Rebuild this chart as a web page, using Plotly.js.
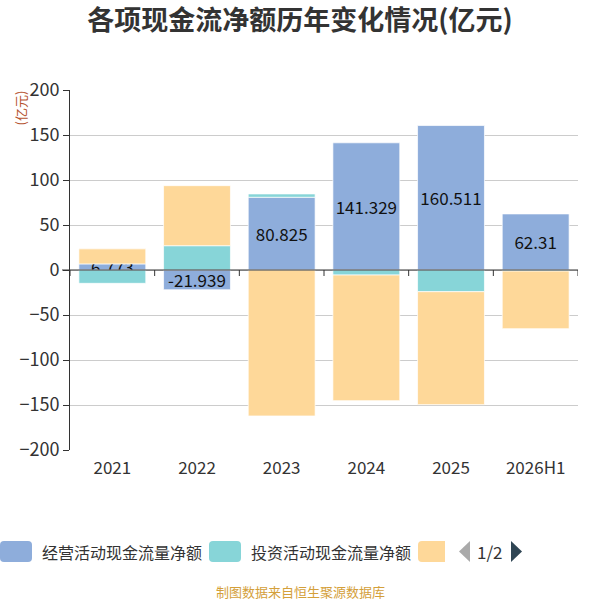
<!DOCTYPE html>
<html>
<head>
<meta charset="utf-8">
<script src="https://cdn.plot.ly/plotly-3.0.1.min.js"></script>
<style>
  html, body { margin: 0; padding: 0; background: #fff; }
  #chart { width: 600px; height: 600px; }
</style>
</head>
<body>
<div id="chart"></div>
<script>
// data (亿元)
var years = ['2021', '2022', '2023', '2024', '2025', '2026H1'];
var operating = [6.773, -21.939, 80.825, 141.329, 160.511, 62.31];
var investing = [-14.8, 27.0, 3.7, -5.6, -24.1, -1.2];
var financing = [16.7, 66.7, -162.2, -139.6, -125.5, -64.0];
var seriesNames = ['经营活动现金流量净额', '投资活动现金流量净额', '筹资活动现金流量净额'];
var seriesColors = ['#8eaddb', '#87d5d8', '#fed899'];

var font = '"Noto Sans CJK SC", "Noto Sans", sans-serif';

// plot area in pixels, used to place the hand drawn legend
var L = 70, R = 578, T = 90, B = 450;
var yMin = -200, yMax = 200;
function px(x) { return (x - L) / (R - L); }
function py(y) { return (B - y) / (B - T); }

function bar(vals, i, withText) {
  var t = {
    type: 'bar',
    name: seriesNames[i],
    x: years,
    y: vals,
    marker: { color: seriesColors[i], line: { color: 'rgba(255,255,255,0.7)', width: 1 } },
    hoverinfo: 'x+y+name'
  };
  if (withText) {
    t.text = vals.map(function (v) { return String(v); });
    t.textposition = 'inside';
    t.insidetextanchor = 'middle';
    t.textangle = 0;
    t.constraintext = 'none';
    t.textfont = { family: font, size: 17, color: '#111' };
  }
  return t;
}

var data = [bar(operating, 0, true), bar(investing, 1, false), bar(financing, 2, false)];

var shapes = [];
var annotations = [];

// axis line at y = 0 with ticks on the category boundaries
var tickLen = 6 * (yMax - yMin) / (B - T);
shapes.push({ type: 'line', xref: 'paper', yref: 'y', x0: px(62), x1: 1, y0: 0, y1: 0,
  layer: 'above', line: { color: '#333', width: 1 } });
for (var k = 0; k <= years.length; k++) {
  shapes.push({ type: 'line', xref: 'x', yref: 'y', x0: k - 0.5, x1: k - 0.5, y0: 0, y1: -tickLen,
    layer: 'above', line: { color: '#333', width: 1 } });
}

// legend drawn by hand (the original pages it: 1/2)
var legX = [0, 209, 418];
var swW = 32, swTop = 541, swBot = 562, r = 4;
function roundRect(x0, x1, y0, y1, cutRight) {
  var rx = r / (R - L), ry = r / (B - T);
  var a = px(x0), b = px(x1), top = py(y0), bot = py(y1);
  var p = 'M' + (a + rx) + ',' + top;
  if (cutRight) {
    p += ' L' + b + ',' + top + ' L' + b + ',' + bot;
  } else {
    p += ' L' + (b - rx) + ',' + top + ' Q' + b + ',' + top + ' ' + b + ',' + (top - ry) +
      ' L' + b + ',' + (bot + ry) + ' Q' + b + ',' + bot + ' ' + (b - rx) + ',' + bot;
  }
  p += ' L' + (a + rx) + ',' + bot + ' Q' + a + ',' + bot + ' ' + a + ',' + (bot + ry) +
    ' L' + a + ',' + (top - ry) + ' Q' + a + ',' + top + ' ' + (a + rx) + ',' + top + ' Z';
  return p;
}
for (var i = 0; i < 3; i++) {
  var cut = (i === 2);
  shapes.push({ type: 'path', xref: 'paper', yref: 'paper',
    path: roundRect(legX[i], legX[i] + (cut ? 27 : swW), swTop, swBot, cut),
    fillcolor: seriesColors[i], line: { width: 0 } });
  if (!cut) {
    annotations.push({ xref: 'paper', yref: 'paper', x: px(legX[i] + 40), y: py(551.5),
      xanchor: 'left', yanchor: 'middle', showarrow: false, text: seriesNames[i],
      font: { family: font, size: 16, color: '#333' } });
  }
}
// pager arrows
shapes.push({ type: 'path', xref: 'paper', yref: 'paper',
  path: 'M' + px(470) + ',' + py(541) + ' L' + px(459) + ',' + py(551.5) + ' L' + px(470) + ',' + py(562) + ' Z',
  fillcolor: '#aaaaaa', line: { width: 0 } });
shapes.push({ type: 'path', xref: 'paper', yref: 'paper',
  path: 'M' + px(511) + ',' + py(541) + ' L' + px(522) + ',' + py(551.5) + ' L' + px(511) + ',' + py(562) + ' Z',
  fillcolor: '#2f4554', line: { width: 0 } });
annotations.push({ xref: 'paper', yref: 'paper', x: px(490), y: py(551.5), xanchor: 'center',
  yanchor: 'middle', showarrow: false, text: '1/2', font: { family: font, size: 17, color: '#333' } });

// unit label and source
annotations.push({ xref: 'paper', yref: 'paper', x: px(20), y: py(89), xanchor: 'center',
  yanchor: 'top', showarrow: false, textangle: -90, text: '(亿元)',
  font: { family: font, size: 13, color: '#b5532f' } });
annotations.push({ xref: 'paper', yref: 'paper', x: px(300), y: py(591), xanchor: 'center',
  yanchor: 'middle', showarrow: false, text: '制图数据来自恒生聚源数据库',
  font: { family: font, size: 13, color: '#d4a03a' } });

var layout = {
  width: 600,
  height: 600,
  margin: { l: L, r: 600 - R, t: T, b: 600 - B },
  paper_bgcolor: '#fff',
  plot_bgcolor: '#fff',
  barmode: 'relative',
  bargap: 0.21,
  showlegend: false,
  title: { text: '<b>各项现金流净额历年变化情况(亿元)</b>', x: 0.5, xanchor: 'center',
    y: 1 - 21 / 600, yanchor: 'middle', font: { family: font, size: 27, color: '#333' } },
  xaxis: {
    type: 'category',
    categoryarray: years,
    range: [-0.5, years.length - 0.5],
    showline: false,
    showgrid: false,
    zeroline: false,
    ticks: '',
    tickfont: { family: font, size: 17, color: '#333' },
    ticklabelstandoff: 6
  },
  yaxis: {
    range: [yMin, yMax],
    dtick: 50,
    showline: true,
    linecolor: '#333',
    linewidth: 1,
    ticks: 'outside',
    ticklen: 6,
    tickcolor: '#333',
    gridcolor: '#cccccc',
    zeroline: false,
    tickfont: { family: font, size: 18, color: '#333' }
  },
  shapes: shapes,
  annotations: annotations
};

Plotly.newPlot('chart', data, layout, { displayModeBar: false });
</script>
</body>
</html>
